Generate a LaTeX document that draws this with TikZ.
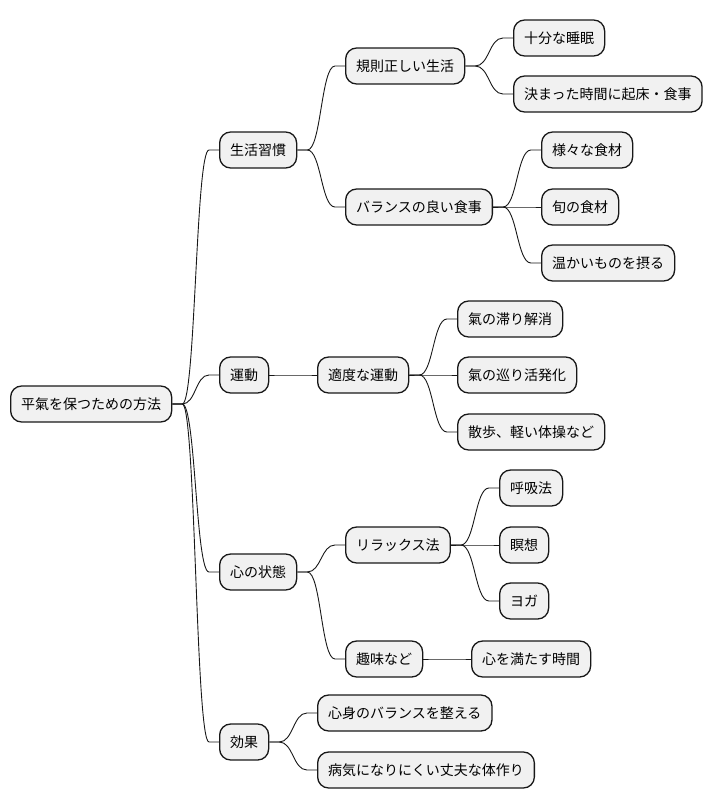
\documentclass[tikz,border=0pt]{standalone}
\usepackage{fontspec}
\setmainfont{Noto Sans CJK JP}
\usetikzlibrary{calc}
\definecolor{cline}{HTML}{181818}
\definecolor{cfill}{HTML}{F1F1F1}
\tikzset{
  every picture/.style={x=1pt, y=-1pt},
  topic/.style={draw=cline, fill=cfill, line width=1.3pt, rounded corners=11pt, anchor=west,
    minimum height=36pt, inner xsep=10.5pt, font=\fontsize{14}{16}\selectfont},
  link/.style={draw=cline, line width=0.9pt,
    to path={let \p1=(\tikztostart), \p2=(\tikztotarget) in
      -- (\x1+10pt,\y1) .. controls ({(\x1+\x2)/2},\y1) and ({(\x1+\x2)/2},\y2) .. (\x2-10pt,\y2) -- (\x2,\y2)}},
}
\begin{document}
\begin{tikzpicture}
  \useasboundingbox (0,0) rectangle (712,809);

  % ---- root and first level
  \node[topic] (root)  at (10,404)  {平氣を保つための方法};
  \node[topic] (hab)   at (219,150) {生活習慣};
  \node[topic] (exer)  at (219,375) {運動};
  \node[topic] (mind)  at (219,572) {心の状態};
  \node[topic] (eff)   at (219,742) {効果};

  % ---- second level
  \node[topic] (reg)   at (345,66)  {規則正しい生活};
  \node[topic] (diet)  at (345,207) {バランスの良い食事};
  \node[topic] (mod)   at (317,375) {適度な運動};
  \node[topic] (relax) at (345,545) {リラックス法};
  \node[topic] (hobby) at (345,659) {趣味など};
  \node[topic] (bal)   at (317,713) {心身のバランスを整える};
  \node[topic] (body)  at (317,770) {病気になりにくい丈夫な体作り};

  % ---- third level
  \node[topic] (sleep)  at (513,38)  {十分な睡眠};
  \node[topic] (fixed)  at (513,94)  {決まった時間に起床・食事};
  \node[topic] (vari)   at (541,150) {様々な食材};
  \node[topic] (season) at (541,207) {旬の食材};
  \node[topic] (warm)   at (541,263) {温かいものを摂る};
  \node[topic] (stag)   at (457,319) {氣の滞り解消};
  \node[topic] (flow)   at (457,375) {氣の巡り活発化};
  \node[topic] (walk)   at (457,432) {散歩、軽い体操など};
  \node[topic] (breath) at (499,488) {呼吸法};
  \node[topic] (medit)  at (499,545) {瞑想};
  \node[topic] (yoga)   at (499,601) {ヨガ};
  \node[topic] (fulfil) at (471,659) {心を満たす時間};

  % ---- branches
  \draw[link] (root.east) to (hab.west);
  \draw[link] (root.east) to (exer.west);
  \draw[link] (root.east) to (mind.west);
  \draw[link] (root.east) to (eff.west);
  \draw[link] (hab.east) to (reg.west);
  \draw[link] (hab.east) to (diet.west);
  \draw[link] (exer.east) to (mod.west);
  \draw[link] (mind.east) to (relax.west);
  \draw[link] (mind.east) to (hobby.west);
  \draw[link] (eff.east) to (bal.west);
  \draw[link] (eff.east) to (body.west);
  \draw[link] (reg.east) to (sleep.west);
  \draw[link] (reg.east) to (fixed.west);
  \draw[link] (diet.east) to (vari.west);
  \draw[link] (diet.east) to (season.west);
  \draw[link] (diet.east) to (warm.west);
  \draw[link] (mod.east) to (stag.west);
  \draw[link] (mod.east) to (flow.west);
  \draw[link] (mod.east) to (walk.west);
  \draw[link] (relax.east) to (breath.west);
  \draw[link] (relax.east) to (medit.west);
  \draw[link] (relax.east) to (yoga.west);
  \draw[link] (hobby.east) to (fulfil.west);
\end{tikzpicture}
\end{document}
